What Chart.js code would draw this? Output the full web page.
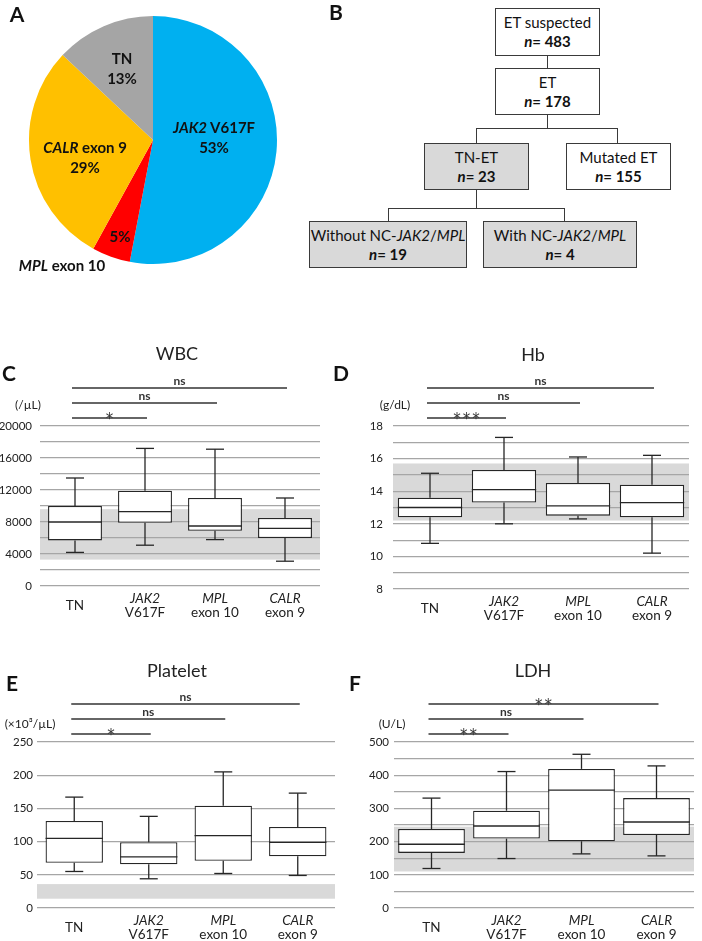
<!DOCTYPE html>
<html><head><meta charset="utf-8">
<script src="https://cdn.jsdelivr.net/npm/chart.js@4.4.1/dist/chart.umd.min.js"></script>
<style>
body{margin:0;background:#fff;font-family:Lato,"Noto Sans",sans-serif;color:#111;}
#page{position:relative;width:702px;height:941px;overflow:hidden;background:#fff;}
.abs{position:absolute;}
.c{transform:translate(-50%,-50%);text-align:center;white-space:nowrap;}
.letter{font-weight:bold;font-size:21px;}
.plab{font-weight:bold;font-size:15px;line-height:20px;}
.box{position:absolute;border:1.5px solid #3a3a3a;box-sizing:border-box;background:#fff;display:flex;flex-direction:column;justify-content:center;align-items:center;font-size:15px;line-height:19px;white-space:nowrap;}
.box b{font-weight:bold;}
.gray{background:#D9D9D9;}
.hl{position:absolute;height:0;border-top:1.5px solid #3a3a3a;}
.vl{position:absolute;width:0;border-left:1.5px solid #3a3a3a;}
.title{font-size:18px;color:#222;}
.unit{font-size:12px;color:#222;}
canvas{position:absolute;}
</style></head>
<body><div id="page">
<canvas id="pie" width="260" height="260" style="left:23px;top:10px;"></canvas>
<canvas id="wbc" width="350" height="290" style="left:0px;top:340px;"></canvas>
<canvas id="hb" width="352" height="290" style="left:350px;top:340px;"></canvas>
<canvas id="plt" width="350" height="291" style="left:0px;top:650px;"></canvas>
<canvas id="ldh" width="352" height="291" style="left:350px;top:650px;"></canvas>

<div class="abs c letter" style="left:17px;top:13px;">A</div>
<div class="abs c letter" style="left:336px;top:11px;">B</div>
<div class="abs c letter" style="left:9px;top:372px;">C</div>
<div class="abs c letter" style="left:341px;top:372px;">D</div>
<div class="abs c letter" style="left:12px;top:682px;">E</div>
<div class="abs c letter" style="left:355px;top:682px;">F</div>

<div class="abs c plab" style="left:122px;top:68px;">TN<br>13%</div>
<div class="abs c plab" style="left:214px;top:137px;"><i>JAK2</i> V617F<br>53%</div>
<div class="abs c plab" style="left:85px;top:157px;"><i>CALR</i> exon 9<br>29%</div>
<div class="abs c plab" style="left:120px;top:236px;">5%</div>
<div class="abs c plab" style="left:62px;top:265px;"><i>MPL</i> exon 10</div>

<div class="box" style="left:495px;top:8px;width:105px;height:48px;"><span>ET suspected</span><b><i>n</i>= 483</b></div>
<div class="box" style="left:495px;top:68px;width:105px;height:47px;"><span>ET</span><b><i>n</i>= 178</b></div>
<div class="box gray" style="left:424px;top:143px;width:105px;height:47px;"><span>TN-ET</span><b><i>n</i>= 23</b></div>
<div class="box" style="left:566px;top:143px;width:105px;height:47px;"><span>Mutated ET</span><b><i>n</i>= 155</b></div>
<div class="box gray" style="left:309px;top:221px;width:158px;height:47px;"><span>Without NC-<i>JAK2</i>/<i>MPL</i></span><b><i>n</i>= 19</b></div>
<div class="box gray" style="left:483px;top:221px;width:154px;height:47px;"><span>With NC-<i>JAK2</i>/<i>MPL</i></span><b><i>n</i>= 4</b></div>
<div class="vl" style="left:547px;top:56px;height:12px;"></div>
<div class="vl" style="left:547px;top:115px;height:13px;"></div>
<div class="hl" style="left:476px;top:128px;width:142px;"></div>
<div class="vl" style="left:476px;top:128px;height:15px;"></div>
<div class="vl" style="left:617px;top:128px;height:15px;"></div>
<div class="vl" style="left:476px;top:190px;height:18px;"></div>
<div class="hl" style="left:388px;top:208px;width:177px;"></div>
<div class="vl" style="left:388px;top:208px;height:13px;"></div>
<div class="vl" style="left:564px;top:208px;height:13px;"></div>

<div class="abs c title" style="left:177px;top:353px;">WBC</div>
<div class="abs c title" style="left:533px;top:354px;">Hb</div>
<div class="abs c title" style="left:177px;top:670px;">Platelet</div>
<div class="abs c title" style="left:533px;top:670px;">LDH</div>
<div class="abs c unit" style="left:28px;top:404px;">(/µL)</div>
<div class="abs c unit" style="left:395px;top:404px;">(g/dL)</div>
<div class="abs c unit" style="left:30px;top:723px;">(×10³/µL)</div>
<div class="abs c unit" style="left:392px;top:723px;">(U/L)</div>
</div>
<script>
// ---- Panel A data ----
const pieLabels = ['JAK2 V617F', 'MPL exon 10', 'CALR exon 9', 'TN'];
const piePercents = [53, 5, 29, 13];

// ---- Box plot groups ----
const groups = ['TN', 'JAK2 V617F', 'MPL exon 10', 'CALR exon 9'];
const groupGene = ['TN', 'JAK2', 'MPL', 'CALR'];
const groupDetail = ['', 'V617F', 'exon 10', 'exon 9'];

// ---- WBC (/µL) ----
const wbcMin = [4200, 5100, 5800, 3100];
const wbcQ1 = [5700, 7900, 6900, 6000];
const wbcMedian = [8000, 9300, 7500, 7200];
const wbcQ3 = [10000, 11900, 11000, 8500];
const wbcMax = [13500, 17200, 17100, 11000];
const wbcRef = [3300, 9600];
const wbcSig = ['*', 'ns', 'ns'];
const wbcAxis = [0, 20000, 2000, 4000];

// ---- Hb (g/dL) ----
const hbMin = [10.8, 12.0, 12.3, 10.2];
const hbQ1 = [12.4, 13.3, 12.5, 12.4];
const hbMedian = [13.0, 14.1, 13.1, 13.3];
const hbQ3 = [13.6, 15.3, 14.5, 14.4];
const hbMax = [15.1, 17.3, 16.1, 16.2];
const hbRef = [12.2, 15.7];
const hbSig = ['***', 'ns', 'ns'];
const hbAxis = [8, 18, 1, 2];

// ---- Platelet (x10^3/µL) ----
const pltMin = [55, 44, 52, 49];
const pltQ1 = [68, 66, 71, 78];
const pltMedian = [105, 77, 109, 99];
const pltQ3 = [131, 99, 154, 122];
const pltMax = [167, 138, 205, 173];
const pltRef = [14, 36];
const pltSig = ['*', 'ns', 'ns'];
const pltAxis = [0, 250, 50, 50];

// ---- LDH (U/L) ----
const ldhMin = [119, 149, 163, 157];
const ldhQ1 = [166, 209, 201, 220];
const ldhMedian = [192, 247, 355, 259];
const ldhQ3 = [238, 293, 419, 331];
const ldhMax = [331, 411, 463, 428];
const ldhRef = [110, 245];
const ldhSig = ['**', 'ns', '**'];
const ldhAxis = [0, 500, 50, 100];

const FONT = 'Lato, "Noto Sans", sans-serif';
Chart.defaults.font.family = FONT;

new Chart(document.getElementById('pie'), {
  type: 'pie',
  data: { labels: pieLabels, datasets: [{ data: piePercents, backgroundColor: ['#00B0F0', '#FF0000', '#FFC000', '#A5A5A5'], borderWidth: 0 }] },
  options: { responsive: false, animation: false, events: [], layout: { padding: 6 },
    plugins: { legend: { display: false }, tooltip: { enabled: false } } }
});

const boxPlugin = {
  id: 'boxExtras',
  beforeDraw(chart, args, o) {
    const { ctx, chartArea: ca, scales: { y } } = chart;
    const t = y.getPixelForValue(o.ref[1]), b = y.getPixelForValue(o.ref[0]);
    ctx.save(); ctx.fillStyle = '#D9D9D9';
    ctx.fillRect(ca.left, t, ca.right - ca.left, b - t); ctx.restore();
  },
  afterDatasetsDraw(chart, args, o) {
    const { ctx, scales: { x, y } } = chart;
    const meta = chart.getDatasetMeta(0);
    ctx.save(); ctx.strokeStyle = '#262626'; ctx.lineWidth = 1.3;
    const ln = (x1, y1, x2, y2) => { ctx.beginPath(); ctx.moveTo(x1, y1); ctx.lineTo(x2, y2); ctx.stroke(); };
    o.min.forEach((mn, i) => {
      const cx = x.getPixelForValue(i);
      const half = meta.data[i].width / 2;
      const cap = 9;
      const yMin = y.getPixelForValue(mn), yQ1 = y.getPixelForValue(o.q1[i]);
      const yMed = y.getPixelForValue(o.median[i]), yQ3 = y.getPixelForValue(o.q3[i]);
      const yMax = y.getPixelForValue(o.max[i]);
      ln(cx - half, yMed, cx + half, yMed);
      ln(cx, yQ3, cx, yMax); ln(cx - cap, yMax, cx + cap, yMax);
      ln(cx, yQ1, cx, yMin); ln(cx - cap, yMin, cx + cap, yMin);
    });
    ctx.restore();
  },
  afterDraw(chart, args, o) {
    const { ctx, chartArea: ca, scales: { x } } = chart;
    ctx.save();
    // significance bars
    const offs = [-8, -23, -38];
    o.sig.forEach((lab, k) => {
      const x1 = x.getPixelForValue(0) - 3, x2 = x.getPixelForValue(k + 1) + 2;
      const yy = ca.top + offs[k];
      ctx.strokeStyle = '#333'; ctx.lineWidth = 1.5;
      ctx.beginPath(); ctx.moveTo(x1, yy); ctx.lineTo(x2, yy); ctx.stroke();
      ctx.fillStyle = '#333'; ctx.textAlign = 'center';
      if (lab === 'ns') {
        ctx.font = 'bold 12px ' + FONT; ctx.textBaseline = 'alphabetic'; ctx.letterSpacing = '0px';
        ctx.fillText(lab, (x1 + x2) / 2, yy - 3);
      } else {
        ctx.font = '15px "DejaVu Sans", sans-serif'; ctx.textBaseline = 'alphabetic'; ctx.letterSpacing = '2px';
        ctx.fillText(lab, (x1 + x2) / 2 + 1, yy + 6);
        ctx.letterSpacing = '0px';
      }
    });
    // category labels
    ctx.fillStyle = '#222'; ctx.textAlign = 'center'; ctx.textBaseline = 'middle';
    groupGene.forEach((g, i) => {
      const cx = x.getPixelForValue(i);
      if (!groupDetail[i]) {
        ctx.font = '13.5px ' + FONT; ctx.fillText(g, cx, ca.bottom + 20);
      } else {
        ctx.font = 'italic 13.5px ' + FONT; ctx.fillText(g, cx, ca.bottom + 13);
        ctx.font = '13.5px ' + FONT; ctx.fillText(groupDetail[i], cx, ca.bottom + 27);
      }
    });
    ctx.restore();
  }
};

function makeBox(id, s) {
  new Chart(document.getElementById(id), {
    type: 'bar',
    data: { labels: groups, datasets: [{
      data: s.q1.map((v, i) => [v, s.q3[i]]),
      backgroundColor: '#ffffff', borderColor: '#262626', borderWidth: 1.3, borderSkipped: false,
      barPercentage: s.barPct, categoryPercentage: 1 }] },
    options: {
      responsive: false, animation: false, events: [],
      layout: { padding: { top: s.pad[0], right: s.pad[1], bottom: s.pad[2], left: 0 } },
      plugins: { legend: { display: false }, tooltip: { enabled: false },
        boxExtras: { min: s.min, q1: s.q1, median: s.median, q3: s.q3, max: s.max, ref: s.ref, sig: s.sig } },
      scales: {
        x: { display: false, offset: true },
        y: { min: s.axis[0], max: s.axis[1],
          afterFit(sc) { sc.width = s.axisW; },
          border: { display: false },
          grid: { color: '#A6A6A6', lineWidth: 1.2, drawTicks: false },
          ticks: { stepSize: s.axis[2], padding: s.tickPad, color: '#222', font: { size: 11.5 }, autoSkip: false,
            callback: (v) => (Math.round(v * 1000) % Math.round(s.axis[3] * 1000) === 0 ? String(v) : '') } }
      }
    },
    plugins: [boxPlugin]
  });
}

makeBox('wbc', { min: wbcMin, q1: wbcQ1, median: wbcMedian, q3: wbcQ3, max: wbcMax, ref: wbcRef, sig: wbcSig, axis: wbcAxis,
  pad: [86, 30, 44], axisW: 40, tickPad: 8, barPct: 0.77 });
makeBox('hb', { min: hbMin, q1: hbQ1, median: hbMedian, q3: hbQ3, max: hbMax, ref: hbRef, sig: hbSig, axis: hbAxis,
  pad: [86, 13, 41], axisW: 43, tickPad: 10, barPct: 0.87 });
makeBox('plt', { min: pltMin, q1: pltQ1, median: pltMedian, q3: pltQ3, max: pltMax, ref: pltRef, sig: pltSig, axis: pltAxis,
  pad: [92, 15, 33], axisW: 37, tickPad: 4, barPct: 0.77 });
makeBox('ldh', { min: ldhMin, q1: ldhQ1, median: ldhMedian, q3: ldhQ3, max: ldhMax, ref: ldhRef, sig: ldhSig, axis: ldhAxis,
  pad: [92, 8, 33], axisW: 44, tickPad: 5, barPct: 0.89 });
</script>
</body></html>
